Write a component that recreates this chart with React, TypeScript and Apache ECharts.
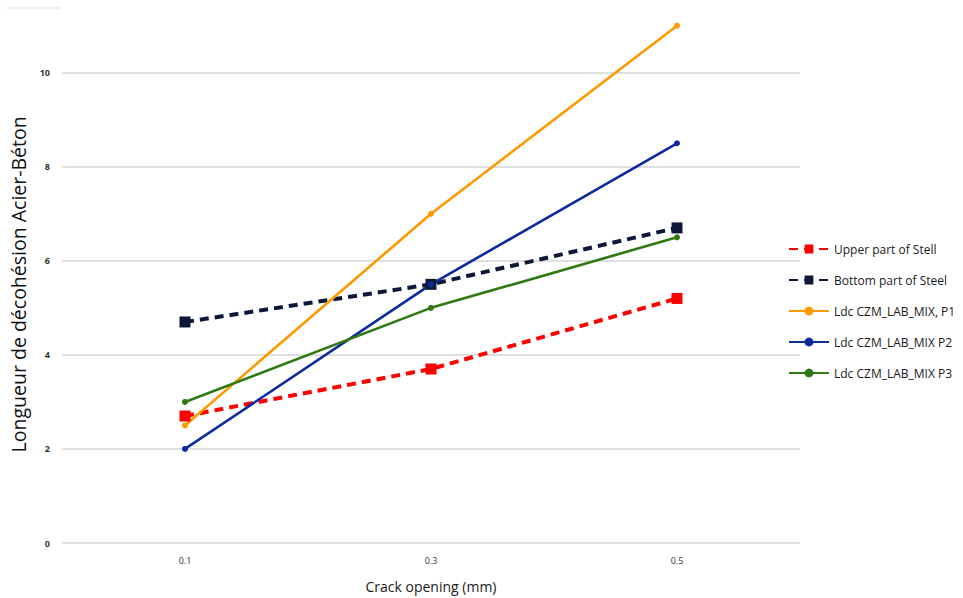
import React, { useEffect, useRef } from "react";
import * as echarts from "echarts";

const categories = ["0.1", "0.3", "0.5"];
const upperSteel = [2.7, 3.7, 5.2];
const bottomSteel = [4.7, 5.5, 6.7];
const p1 = [2.5, 7.0, 11.0];
const p2 = [2.0, 5.5, 8.5];
const p3 = [3.0, 5.0, 6.5];

export default function App() {
  const ref = useRef<HTMLDivElement>(null);
  useEffect(() => {
    const chart = echarts.init(ref.current!, null, { renderer: "svg" });
    const font = "'Open Sans', 'Noto Sans', sans-serif";
    const dashed = (name: string, data: number[], color: string) => ({
      name,
      type: "line",
      data,
      symbol: "rect",
      symbolSize: 11,
      lineStyle: { color, width: 4, type: [9, 6] },
      itemStyle: { color },
    });
    const solid = (name: string, data: number[], color: string) => ({
      name,
      type: "line",
      data,
      symbol: "circle",
      symbolSize: 6,
      lineStyle: { color, width: 2.6 },
      itemStyle: { color },
    });
    chart.setOption({
      animation: false,
      backgroundColor: "#ffffff",
      grid: { left: 62, right: 163, top: 25.7, bottom: 52, containLabel: false },
      legend: {
        orient: "vertical",
        left: 783,
        top: 238,
        itemWidth: 40,
        itemHeight: 11,
        itemGap: 19,
        textStyle: { fontFamily: font, fontSize: 12, color: "#1a1a1a", fontWeight: 500 },
        data: [
          "Upper part of Stell",
          "Bottom part of Steel",
          "Ldc CZM_LAB_MIX, P1",
          "Ldc CZM_LAB_MIX P2",
          "Ldc CZM_LAB_MIX P3",
        ],
      },
      xAxis: {
        type: "category",
        data: categories,
        boundaryGap: true,
        name: "Crack opening (mm)",
        nameLocation: "middle",
        nameGap: 36,
        nameTextStyle: { fontFamily: font, fontSize: 14, color: "#1a1a1a", fontWeight: 500 },
        axisLine: { show: false },
        axisTick: { show: false },
        axisLabel: { fontFamily: font, fontSize: 9, color: "#333", margin: 13 },
      },
      yAxis: {
        type: "value",
        min: 0,
        max: 11,
        interval: 2,
        name: "Longueur de décohésion Acier-Béton",
        nameLocation: "middle",
        nameGap: 28,
        nameTextStyle: { fontFamily: font, fontSize: 19.5, color: "#111" },
        axisLine: { show: false },
        axisTick: { show: false },
        axisLabel: {
          fontFamily: font,
          fontSize: 9,
          fontWeight: "bold",
          color: "#333",
          margin: 12,
          showMaxLabel: false,
        },
        splitLine: { show: true, showMaxLine: false, lineStyle: { color: "#d4d4d4", width: 1.5 } },
      },
      graphic: [
        {
          type: "line",
          shape: { x1: 7, y1: 8, x2: 60, y2: 8 },
          style: { stroke: "#e8e8e8", lineWidth: 1.5 },
        },
      ],
      series: [
        dashed("Upper part of Stell", upperSteel, "#ff0000"),
        dashed("Bottom part of Steel", bottomSteel, "#0d1838"),
        solid("Ldc CZM_LAB_MIX, P1", p1, "#ff9900"),
        solid("Ldc CZM_LAB_MIX P2", p2, "#0a2a9e"),
        solid("Ldc CZM_LAB_MIX P3", p3, "#2e7a12"),
      ],
    });
    return () => chart.dispose();
  }, []);
  return <div ref={ref} style={{ width: 963, height: 598, position: "absolute", left: 0, top: 0 }} />;
}
